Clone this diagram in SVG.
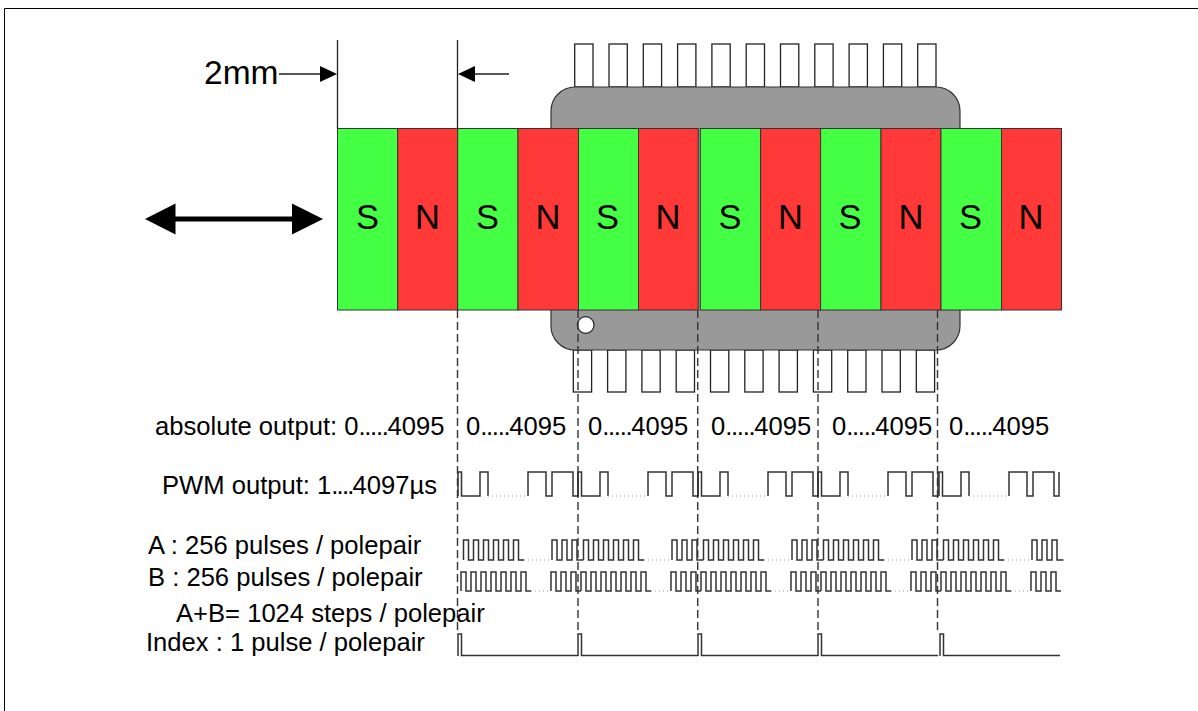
<svg xmlns="http://www.w3.org/2000/svg" xmlns:xlink="http://www.w3.org/1999/xlink" width="1198" height="711" viewBox="0 0 1198 711">
<style>
text{font-family:"Liberation Sans",Arial,sans-serif;fill:#000}
.lbl{font-size:25.6px}
.pole{font-size:34.5px;text-anchor:middle}
.d5{letter-spacing:-1.3px}
.d4{letter-spacing:-1.8px}
.s{fill:#44ff44;stroke:#333;stroke-width:1}
.n{fill:#ff3838;stroke:#333;stroke-width:1}
.pin{fill:#fff;stroke:#222;stroke-width:1.3}
.wave{fill:none;stroke:#333;stroke-width:1.5}
.dot{fill:none;stroke:#999;stroke-width:1;stroke-dasharray:1 3}
.dash{fill:none;stroke:#333;stroke-width:1.4;stroke-dasharray:8 4}
.line{fill:none;stroke:#222;stroke-width:1.3}
</style>
<defs>
<g id="pwm"><path class="wave" d="M0,496V472H3.500V496H22V472H30V496"/><path class="dot" d="M30,496H70"/><path class="wave" d="M70,496V472H88V496H94V472H115V496H120V472"/></g>
<g id="wa"><path class="wave" d="M5.500,560V540H10.500V560H15.500V540H20.500V560H25.500V540H30.500V560H35.500V540H40.500V560H45.500V540H50.500V560H55.500V540H60.500V560H66"/><path class="dot" d="M66,560H94"/><path class="wave" d="M94,560V540H99V560H104V540H109V560H114V540H119V560H125.500"/></g>
<g id="wb"><path class="wave" d="M3,591V572H8V591H13V572H18V591H23V572H28V591H33V572H38V591H43V572H48V591H53V572H58V591H63V572H68V591H73"/><path class="dot" d="M73,591H93"/><path class="wave" d="M93,591V572H98V591H103V572H108V591H113V572H118V591H123"/></g>
<path id="wi" class="wave" d="M0,656V634H3.500V655.500H120"/>
<rect id="pt" class="pin" width="18.300" height="43"/>
<rect id="pb" class="pin" width="18.300" height="42"/>
</defs>
<g id="frame"><path d="M4.500,711V8.500H1198" fill="none" stroke="#000" stroke-width="1"/></g>
<g id="pins-top"><use xlink:href="#pt" x="574.700" y="44"/><use xlink:href="#pt" x="609" y="44"/><use xlink:href="#pt" x="643.300" y="44"/><use xlink:href="#pt" x="677.600" y="44"/><use xlink:href="#pt" x="711.900" y="44"/><use xlink:href="#pt" x="746.200" y="44"/><use xlink:href="#pt" x="780.500" y="44"/><use xlink:href="#pt" x="814.800" y="44"/><use xlink:href="#pt" x="849.100" y="44"/><use xlink:href="#pt" x="883.400" y="44"/><use xlink:href="#pt" x="917.700" y="44"/></g>
<g id="pins-bottom"><use xlink:href="#pb" x="573.300" y="350"/><use xlink:href="#pb" x="607.600" y="350"/><use xlink:href="#pb" x="641.900" y="350"/><use xlink:href="#pb" x="676.200" y="350"/><use xlink:href="#pb" x="710.500" y="350"/><use xlink:href="#pb" x="744.800" y="350"/><use xlink:href="#pb" x="779.100" y="350"/><use xlink:href="#pb" x="813.400" y="350"/><use xlink:href="#pb" x="847.700" y="350"/><use xlink:href="#pb" x="882" y="350"/><use xlink:href="#pb" x="916.300" y="350"/></g>
<g id="chip"><rect x="551" y="87" width="409" height="263" rx="24" ry="24" fill="#999" stroke="#333" stroke-width="1.200"/><circle cx="585.700" cy="325" r="8.300" fill="#fff" stroke="#222" stroke-width="1.200"/></g>
<g id="magnets">
<rect class="s" x="337.500" y="128.500" width="60.200" height="181.500"/><rect class="n" x="397.700" y="128.500" width="60" height="181.500"/><rect class="s" x="457.700" y="128.500" width="60.300" height="181.500"/><rect class="n" x="518" y="128.500" width="60.500" height="181.500"/><rect class="s" x="578.500" y="128.500" width="60" height="181.500"/><rect class="n" x="638.500" y="128.500" width="59.700" height="181.500"/>
<rect class="s" x="700.300" y="128.500" width="60.300" height="181.500"/><rect class="n" x="760.600" y="128.500" width="60" height="181.500"/><rect class="s" x="820.600" y="128.500" width="60.400" height="181.500"/><rect class="n" x="881" y="128.500" width="60" height="181.500"/><rect class="s" x="941" y="128.500" width="60.500" height="181.500"/><rect class="n" x="1001.500" y="128.500" width="60" height="181.500"/>
<text class="pole" x="367.500" y="229">S</text><text class="pole" x="427.500" y="229">N</text><text class="pole" x="487.500" y="229">S</text><text class="pole" x="548" y="229">N</text><text class="pole" x="607.500" y="229">S</text><text class="pole" x="668" y="229">N</text><text class="pole" x="730" y="229">S</text><text class="pole" x="790.500" y="229">N</text><text class="pole" x="850" y="229">S</text><text class="pole" x="911" y="229">N</text><text class="pole" x="970.500" y="229">S</text><text class="pole" x="1031" y="229">N</text>
</g>
<g id="connectors">
<path class="line" d="M337.500,40V128M457.500,40V128"/>
<path class="line" d="M279,74H322M472,74H509"/>
<polygon points="337,74 320,66 320,82" fill="#000"/>
<polygon points="458,74 475,66 475,82" fill="#000"/>
<path d="M172,219H296" stroke="#000" stroke-width="5" fill="none"/>
<polygon points="145,219 175.500,203.500 175.500,234.500" fill="#000"/>
<polygon points="323,219 292,203.500 292,234.500" fill="#000"/>
<path class="dash" d="M457.500,310V634M578,310V634M697.700,310V634M818,310V634M937.500,310V634"/>
</g>
<g id="waves">
<use xlink:href="#pwm" x="458"/><use xlink:href="#pwm" x="578"/><use xlink:href="#pwm" x="698"/><use xlink:href="#pwm" x="818"/><use xlink:href="#pwm" x="939"/>
<use xlink:href="#wa" x="458"/><use xlink:href="#wa" x="578"/><use xlink:href="#wa" x="698"/><use xlink:href="#wa" x="818"/><use xlink:href="#wa" x="938"/>
<use xlink:href="#wb" x="458"/><use xlink:href="#wb" x="578"/><use xlink:href="#wb" x="698"/><use xlink:href="#wb" x="818"/><use xlink:href="#wb" x="938"/>
<use xlink:href="#wi" x="458"/><use xlink:href="#wi" x="578"/><use xlink:href="#wi" x="698"/><use xlink:href="#wi" x="818"/><use xlink:href="#wi" x="940"/>
</g>
<g id="labels">
<text x="204" y="84" font-size="33.500">2mm</text>
<text class="lbl" x="155" y="435">absolute output: 0<tspan class="d5">.....</tspan>4095</text>
<text class="lbl" x="466" y="435">0<tspan class="d5">.....</tspan>4095</text>
<text class="lbl" x="588" y="435">0<tspan class="d5">.....</tspan>4095</text>
<text class="lbl" x="711" y="435">0<tspan class="d5">.....</tspan>4095</text>
<text class="lbl" x="832" y="435">0<tspan class="d5">.....</tspan>4095</text>
<text class="lbl" x="949" y="435">0<tspan class="d5">.....</tspan>4095</text>
<text class="lbl" x="162" y="493.500">PWM output: 1<tspan class="d4">....</tspan>4097µs</text>
<text class="lbl" x="148" y="554">A : 256 pulses / polepair</text>
<text class="lbl" x="148" y="585.500">B : 256 pulses / polepair</text>
<text class="lbl" x="176" y="621.500">A+B= 1024 steps / polepair</text>
<text class="lbl" x="146" y="651">Index : 1 pulse / polepair</text>
</g>
</svg>
